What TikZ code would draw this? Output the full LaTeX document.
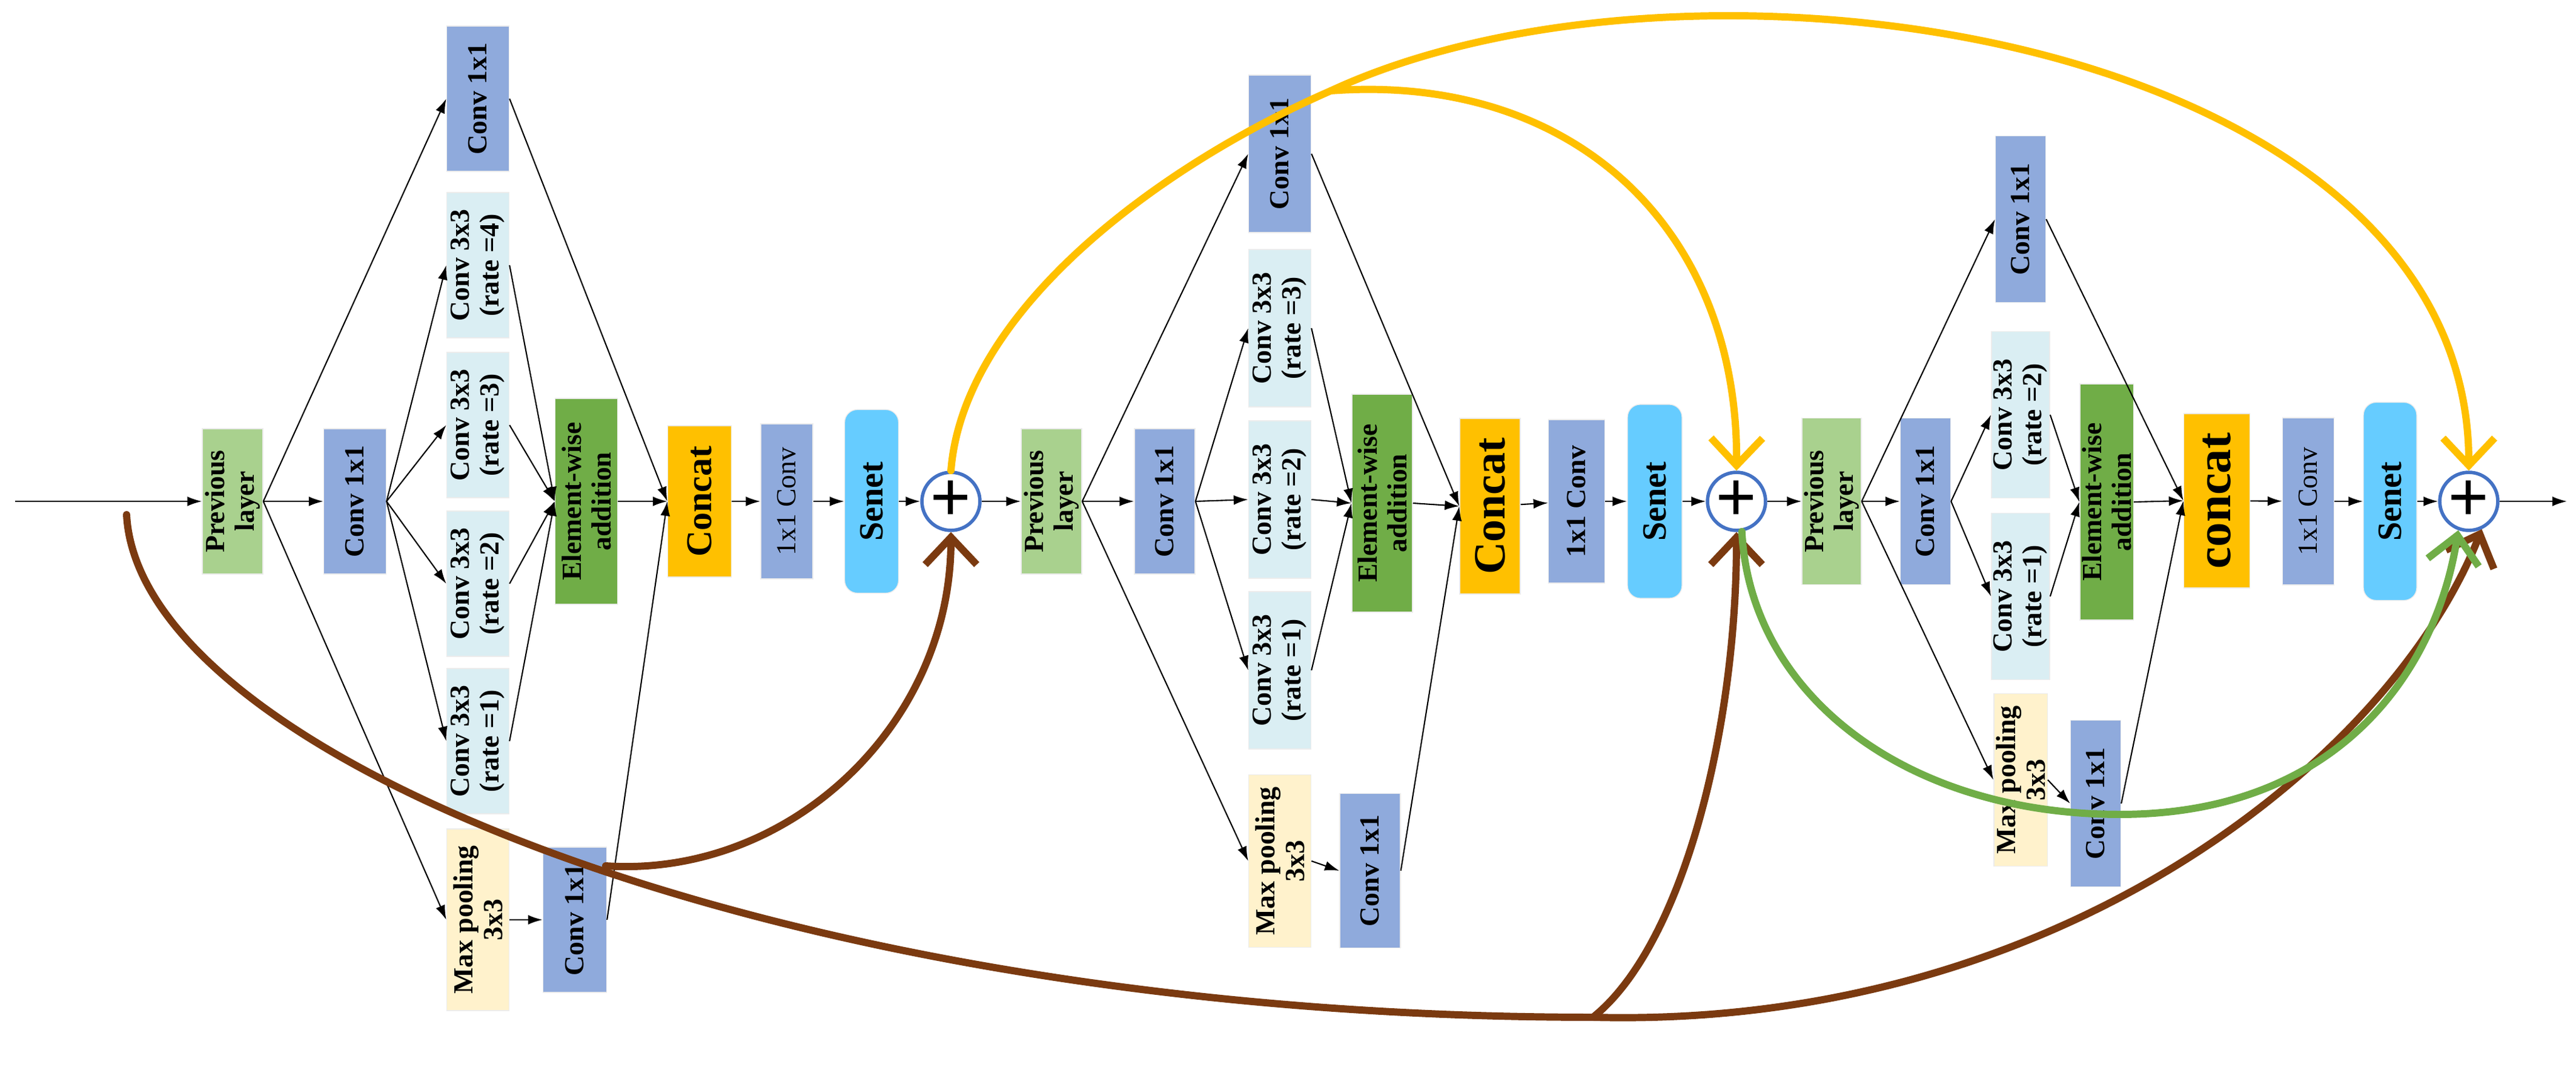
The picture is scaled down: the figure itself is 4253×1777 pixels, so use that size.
\documentclass[tikz,border=0pt]{standalone}
\usepackage{fontspec}
\setmainfont{Liberation Serif}
\usetikzlibrary{arrows.meta}
\definecolor{prevc}{HTML}{A9D18E}
\definecolor{convc}{HTML}{8FAADC}
\definecolor{ratec}{HTML}{DAEEF3}
\definecolor{poolc}{HTML}{FFF2CC}
\definecolor{addc}{HTML}{70AD47}
\definecolor{catc}{HTML}{FFC000}
\definecolor{senc}{HTML}{66CCFF}
\definecolor{brownc}{HTML}{7B3A10}
\definecolor{ringc}{HTML}{4472C4}
\tikzset{
  box/.style 2 args={rectangle, rotate=90, draw=white!85!gray, line width=0.4pt, inner sep=1pt,
    align=center, minimum width=#1cm, minimum height=#2cm,
    font=\fontsize{13}{14}\selectfont\bfseries},
  prev/.style={fill=prevc},
  conv/.style={fill=convc},
  rate/.style={fill=ratec},
  pool/.style={fill=poolc},
  add/.style={fill=addc},
  cat/.style={fill=catc, font=\fontsize{17}{18}\selectfont\bfseries},
  sen/.style={fill=senc, rounded corners=6pt, font=\fontsize{16}{18}\selectfont\bfseries},
  plus/.style={circle, draw=ringc, line width=1.6pt, fill=white, minimum size=0.9cm, inner sep=0pt,
    font=\fontsize{34}{34}\selectfont\bfseries},
  flow/.style={-{Latex[length=2.4mm,width=1.6mm]}, line width=0.6pt},
  skip/.style={-{Straight Barb[length=4.5mm,width=8.5mm]}, line width=3.4pt, line cap=round},
}
\begin{document}
\begin{tikzpicture}[x=0.01cm, y=-0.01cm]
\useasboundingbox (0,0) rectangle (4253,1777);
% block 1
\coordinate (in) at (25,828);
\node [box={2.4}{1.0}, prev] (prev1) at (384,828) {Previous\\layer};
\node [box={2.4}{1.03}, conv] (conv1) at (586,828) {Conv 1x1};
\node [box={2.4}{1.03}, conv] (top1) at (789,163) {Conv 1x1};
\node [box={2.4}{1.03}, rate] (r14) at (789,438) {Conv 3x3\\(rate =4)};
\node [box={2.4}{1.03}, rate] (r13) at (789,702) {Conv 3x3\\(rate =3)};
\node [box={2.4}{1.03}, rate] (r12) at (789,964) {Conv 3x3\\(rate =2)};
\node [box={2.4}{1.03}, rate] (r11) at (789,1224) {Conv 3x3\\(rate =1)};
\node [box={3.0}{1.03}, pool] (mp1) at (789,1519) {Max pooling\\3x3};
\node [box={2.4}{1.05}, conv] (cb1) at (949,1519) {Conv 1x1};
\node [box={3.4}{1.03}, add] (ew1) at (968,828) {Element-wise\\addition};
\node [box={2.5}{1.05}, cat] (cc1) at (1155,828) {Concat};
\node [box={2.56}{0.86}, conv, font=\fontsize{13}{14}\selectfont] (cv1) at (1299,828) {1x1 Conv};
\node [box={3.03}{0.89}, sen] (se1) at (1439,828) {Senet};
\node [plus] (p1) at (1570,828) {+};
% block 2
\node [box={2.4}{1.0}, prev] (prev2) at (1736,828) {Previous\\layer};
\node [box={2.4}{1.0}, conv] (conv2) at (1923,828) {Conv 1x1};
\node [box={2.6}{1.03}, conv] (top2) at (2113,254) {Conv 1x1};
\node [box={2.6}{1.03}, rate] (r23) at (2113,542) {Conv 3x3\\(rate =3)};
\node [box={2.6}{1.03}, rate] (r22) at (2113,825) {Conv 3x3\\(rate =2)};
\node [box={2.6}{1.03}, rate] (r21) at (2113,1107) {Conv 3x3\\(rate =1)};
\node [box={2.85}{1.03}, pool] (mp2) at (2113,1422) {Max pooling\\3x3};
\node [box={2.55}{1.0}, conv] (cb2) at (2262,1438) {Conv 1x1};
\node [box={3.6}{1.0}, add] (ew2) at (2282,831) {Element-wise\\addition};
\node [box={2.9}{1.0}, cat, font=\fontsize{21}{22}\selectfont\bfseries] (cc2) at (2460,836) {Concat};
\node [box={2.7}{0.93}, conv] (cv2) at (2603,828) {1x1 Conv};
\node [box={3.2}{0.9}, sen] (se2) at (2732,828) {Senet};
\node [plus] (p2) at (2867,828) {+};
% block 3
\node [box={2.75}{0.85}, prev] (prev3) at (3024,828) {Previous\\layer};
\node [box={2.75}{0.83}, conv] (conv3) at (3179,828) {Conv 1x1};
\node [box={2.75}{0.83}, conv] (top3) at (3336,362) {Conv 1x1};
\node [box={2.75}{0.83}, rate] (r32) at (3336,685) {Conv 3x3\\(rate =2)};
\node [box={2.75}{0.83}, rate] (r31) at (3336,985) {Conv 3x3\\(rate =1)};
\node [box={2.85}{0.83}, pool] (mp3) at (3336,1288) {Max pooling\\3x3};
\node [box={2.75}{0.83}, conv] (cb3) at (3460,1327) {Conv 1x1};
\node [box={3.9}{0.83}, add] (ew3) at (3478,829) {Element-wise\\addition};
\node [box={2.88}{1.09}, cat, font=\fontsize{23}{24}\selectfont\bfseries] (cc3) at (3660,827) {concat};
\node [box={2.76}{0.85}, conv, font=\fontsize{13}{14}\selectfont] (cv3) at (3811,828) {1x1 Conv};
\node [box={3.27}{0.88}, sen] (se3) at (3946,828) {Senet};
\node [plus] (p3) at (4076,828) {+};
\coordinate (out) at (4238,828);
% black arrows
\draw [flow] (in) -- (prev1);
\foreach \b/\c in {1/2,2/3} {
  \draw [flow] (p\b) -- (prev\c);
}
\draw [flow] (p3) -- (out);
\foreach \b in {1,2,3} {
  \draw [flow] (prev\b.south) -- (conv\b.north);
  \draw [flow] (prev\b.south) -- (top\b.north);
  \draw [flow] (prev\b.south) -- (mp\b.north);
  \draw [flow] (mp\b.south) -- (cb\b.north);
  \draw [flow] (top\b.south) -- (cc\b.north);
  \draw [flow] (ew\b.south) -- (cc\b.north);
  \draw [flow] (cb\b.south) -- (cc\b.north);
  \draw [flow] (cc\b) -- (cv\b);
  \draw [flow] (cv\b) -- (se\b);
  \draw [flow] (se\b) -- (p\b);
}
\foreach \r in {r14,r13,r12,r11} {
  \draw [flow] (conv1.south) -- (\r.north);
  \draw [flow] (\r.south) -- (ew1.north);
}
\foreach \r in {r23,r22,r21} {
  \draw [flow] (conv2.south) -- (\r.north);
  \draw [flow] (\r.south) -- (ew2.north);
}
\foreach \r in {r32,r31} {
  \draw [flow] (conv3.south) -- (\r.north);
  \draw [flow] (\r.south) -- (ew3.north);
}
% skip connections
\coordinate (ybr) at (2197,150);
\coordinate (bstart) at (209,850);
\coordinate (bsplit) at (2630,1680);
\coordinate (b2s) at (1000,1430);
\coordinate (gmid) at (3500,1345);
\draw [skip, catc] (p1.north) .. controls (1590,520) and (1900,280) .. (ybr)
  .. controls (2800,-130) and (4076,60) .. (p3.north);
\draw [skip, catc] (ybr) .. controls (2600,120) and (2870,380) .. (p2.north);
\draw [skip, brownc] (bstart) .. controls (230,1250) and (1300,1680) .. (bsplit)
  .. controls (3400,1700) and (3950,1250) .. (p3.-65);
\draw [skip, brownc] (bsplit) .. controls (2780,1560) and (2867,1200) .. (p2.south);
\draw [skip, brownc] (b2s) .. controls (1300,1450) and (1570,1200) .. (p1.south);
\draw [skip, addc] (p2.-80) .. controls (2890,1150) and (3150,1345) .. (gmid)
  .. controls (3850,1345) and (4020,1120) .. (p3.-110);
\end{tikzpicture}
\end{document}
